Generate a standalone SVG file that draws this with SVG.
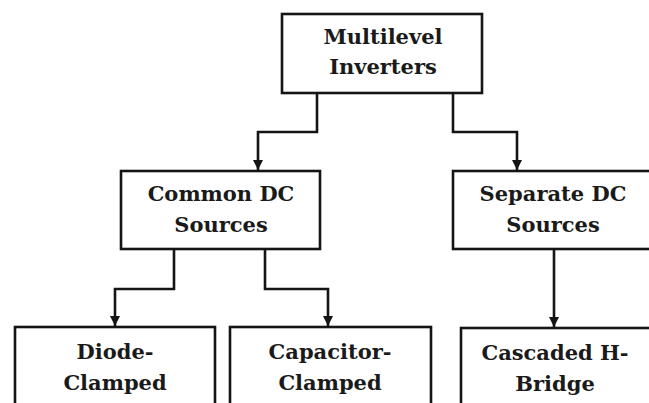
<svg xmlns="http://www.w3.org/2000/svg" width="649" height="403" viewBox="0 0 649 403">
<style>
.box{fill:#fff;stroke:#141414;stroke-width:2.6}
.t{font-family:"DejaVu Serif","Liberation Serif",serif;font-weight:bold;font-size:21px;fill:#1a1a1a;text-anchor:middle}
.c{fill:none;stroke:#141414;stroke-width:2.6}
</style>
<defs>
<marker id="ah" viewBox="0 0 10 10" refX="10" refY="5" markerWidth="10" markerHeight="10" markerUnits="userSpaceOnUse" orient="auto">
<path d="M0,0 L10,5 L0,10 z" fill="#141414"/>
</marker>
</defs>
<rect width="649" height="403" fill="#fff"/>
<g id="connectors">
<path class="c" d="M317 93 V132 H258 V170" marker-end="url(#ah)"/>
<path class="c" d="M453 93 V132 H517 V170" marker-end="url(#ah)"/>
<path class="c" d="M174 249 V289 H115 V326" marker-end="url(#ah)"/>
<path class="c" d="M265 249 V289 H328 V326" marker-end="url(#ah)"/>
<path class="c" d="M554 249 V327" marker-end="url(#ah)"/>
</g>
<g id="n-multilevel">
<rect class="box" x="282" y="14" width="200" height="79"/>
<text class="t" x="383" y="44">Multilevel</text>
<text class="t" x="383" y="74">Inverters</text>
</g>
<g id="n-common">
<rect class="box" x="121" y="171" width="199" height="78"/>
<text class="t" x="221" y="201">Common DC</text>
<text class="t" x="221" y="232">Sources</text>
</g>
<g id="n-separate">
<rect class="box" x="453" y="171" width="200" height="78"/>
<text class="t" x="553" y="201">Separate DC</text>
<text class="t" x="553" y="232">Sources</text>
</g>
<g id="n-diode">
<rect class="box" x="15" y="327" width="200" height="100"/>
<text class="t" x="115" y="359">Diode-</text>
<text class="t" x="115" y="390">Clamped</text>
</g>
<g id="n-capacitor">
<rect class="box" x="230" y="327" width="201" height="100"/>
<text class="t" x="330" y="359">Capacitor-</text>
<text class="t" x="330" y="390">Clamped</text>
</g>
<g id="n-cascaded">
<rect class="box" x="461" y="328" width="200" height="100"/>
<text class="t" x="555" y="360">Cascaded H-</text>
<text class="t" x="555" y="391">Bridge</text>
</g>
</svg>
